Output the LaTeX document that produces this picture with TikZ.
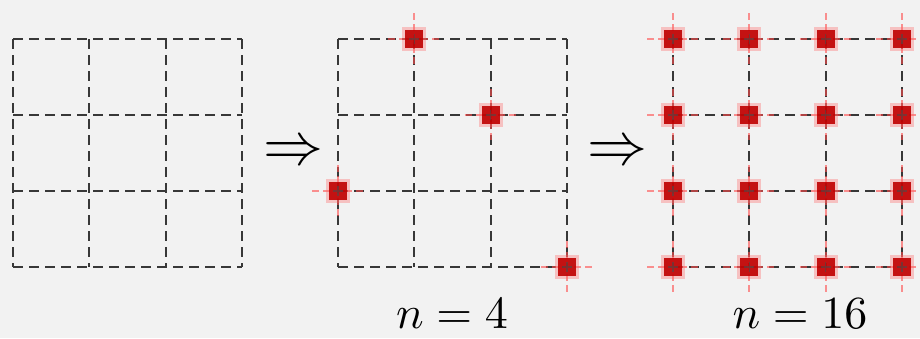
\documentclass[tikz,border=0pt]{standalone}
\begin{document}
\begin{tikzpicture}[x=1pt,y=-1pt,
  gridline/.style={draw=black!78, line width=2.2pt, dash pattern=on 10pt off 6pt},
  crossline/.style={draw=red!70, line width=2pt, dash pattern=on 7pt off 4pt, draw opacity=0.6},
  arrowlbl/.style={inner sep=0pt, scale=6},
  nlbl/.style={inner sep=0pt, anchor=base, scale=4.6},
  redmk/.pic={
    \draw[crossline] (-26,0) -- (26,0);
    \draw[crossline] (0,-26) -- (0,26);
    \fill[red!60, opacity=0.35] (-12,-12) rectangle (12,12);
    \fill[red!75!black, opacity=0.9] (-9,-9) rectangle (9,9);
    \draw[black!70, line width=1.2pt, opacity=0.6] (-5,0) -- (5,0) (0,-5) -- (0,5);
  }]
\definecolor{bgcol}{RGB}{242,242,242}
\fill[bgcol] (0,0) rectangle (920,338);
\useasboundingbox (0,0) rectangle (920,338);

% grid 1 and grid 2
\foreach \xo in {13,338}{
  \foreach \i in {0,1,2,3}{
    \draw[gridline] (\xo+\i*76.33,39) -- (\xo+\i*76.33,267);
    \draw[gridline] (\xo,39+\i*76) -- (\xo+229,39+\i*76);
  }
}
% grid 3
\foreach \i in {0,1,2,3}{
  \draw[gridline] (673+\i*76.33,39) -- (673+\i*76.33,267);
  \draw[gridline] (673,39+\i*76) -- (902,39+\i*76);
}

% markers n = 4
\pic at (414.3,39) {redmk};
\pic at (490.7,115) {redmk};
\pic at (338,191) {redmk};
\pic at (567,267) {redmk};

% markers n = 16
\foreach \i in {0,1,2,3}{
  \foreach \j in {0,1,2,3}{
    \pic at (673+\i*76.33,39+\j*76) {redmk};
  }
}

% arrows
\node[arrowlbl] (arr1) at (293,153) {$\Rightarrow$};
\node[arrowlbl] (arr2) at (617,153) {$\Rightarrow$};

% labels
\node[nlbl] (lbl1) at (452,328) {$n=4$};
\node[nlbl] (lbl2) at (800,328) {$n=16$};
\end{tikzpicture}
\end{document}
